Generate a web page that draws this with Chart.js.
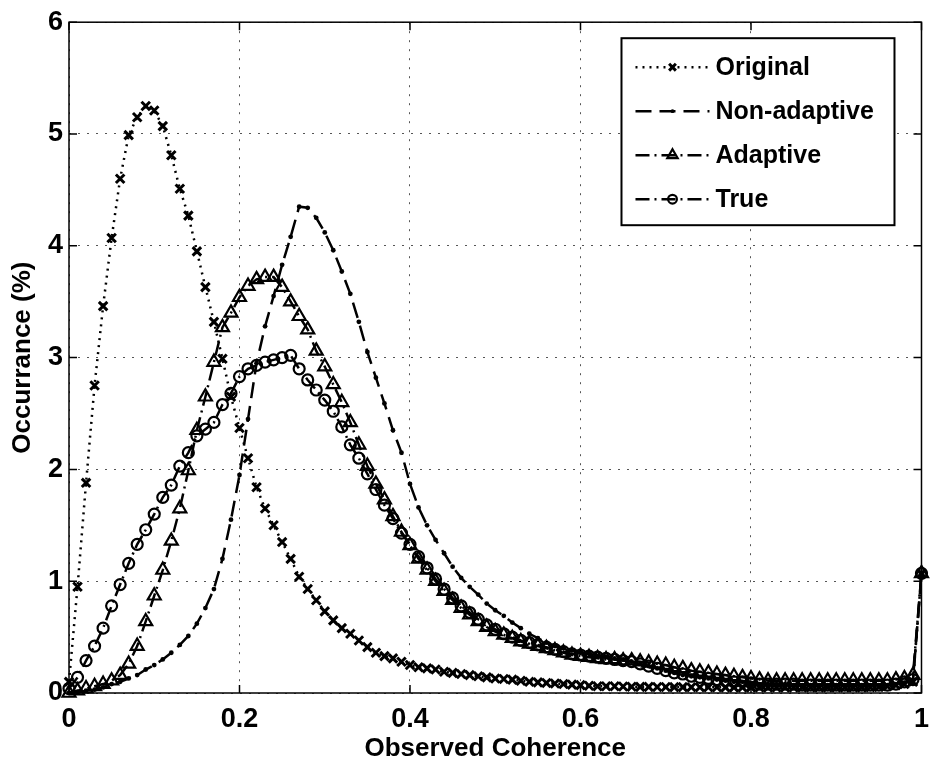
<!DOCTYPE html>
<html>
<head>
<meta charset="utf-8">
<script src="https://cdn.jsdelivr.net/npm/chart.js@4.4.0/dist/chart.umd.min.js"></script>
<style>
  html, body { margin: 0; padding: 0; background: #fff; overflow: hidden; width: 931px; height: 767px; }
  canvas { display: block; }
</style>
</head>
<body>
<!-- a little wider than the window: the right tick label hangs off the edge, as in the original -->
<canvas id="coherenceChart" width="939" height="767"></canvas>
<script>
// Observed coherence bins (x)
const coherence = [
  0.00, 0.01, 0.02, 0.03, 0.04, 0.05, 0.06, 0.07, 0.08, 0.09,
  0.10, 0.11, 0.12, 0.13, 0.14, 0.15, 0.16, 0.17, 0.18, 0.19,
  0.20, 0.21, 0.22, 0.23, 0.24, 0.25, 0.26, 0.27, 0.28, 0.29,
  0.30, 0.31, 0.32, 0.33, 0.34, 0.35, 0.36, 0.37, 0.38, 0.39,
  0.40, 0.41, 0.42, 0.43, 0.44, 0.45, 0.46, 0.47, 0.48, 0.49,
  0.50, 0.51, 0.52, 0.53, 0.54, 0.55, 0.56, 0.57, 0.58, 0.59,
  0.60, 0.61, 0.62, 0.63, 0.64, 0.65, 0.66, 0.67, 0.68, 0.69,
  0.70, 0.71, 0.72, 0.73, 0.74, 0.75, 0.76, 0.77, 0.78, 0.79,
  0.80, 0.81, 0.82, 0.83, 0.84, 0.85, 0.86, 0.87, 0.88, 0.89,
  0.90, 0.91, 0.92, 0.93, 0.94, 0.95, 0.96, 0.97, 0.98, 0.99,
  1.00
];

// Occurrance (%) per series
const original = [
  0.10, 0.95, 1.88, 2.75, 3.46, 4.07, 4.60, 4.99, 5.15, 5.25,
  5.21, 5.07, 4.81, 4.51, 4.27, 3.95, 3.63, 3.32, 2.99, 2.65,
  2.37, 2.10, 1.84, 1.65, 1.50, 1.35, 1.20, 1.04, 0.93, 0.83,
  0.73, 0.65, 0.58, 0.53, 0.47, 0.41, 0.36, 0.33, 0.31, 0.28,
  0.25, 0.23, 0.22, 0.21, 0.19, 0.18, 0.17, 0.16, 0.15, 0.14,
  0.13, 0.125, 0.12, 0.11, 0.10, 0.095, 0.09, 0.085, 0.08, 0.075,
  0.07, 0.065, 0.06, 0.06, 0.06, 0.058, 0.056, 0.055, 0.055, 0.054,
  0.054, 0.053, 0.053, 0.052, 0.052, 0.051, 0.051, 0.05, 0.05, 0.05,
  0.05, 0.05, 0.05, 0.05, 0.05, 0.05, 0.05, 0.05, 0.05, 0.05,
  0.05, 0.05, 0.05, 0.05, 0.052, 0.055, 0.06, 0.07, 0.08, 0.10,
  1.07
];
const nonAdaptive = [
  0.00, 0.01, 0.02, 0.03, 0.05, 0.08, 0.10, 0.13, 0.16, 0.21,
  0.25, 0.30, 0.36, 0.43, 0.51, 0.62, 0.76, 0.93, 1.20, 1.55,
  1.95, 2.45, 2.95, 3.28, 3.55, 3.83, 4.08, 4.35, 4.34, 4.25,
  4.12, 3.96, 3.77, 3.57, 3.32, 3.05, 2.82, 2.59, 2.35, 2.15,
  1.87, 1.66, 1.50, 1.37, 1.25, 1.13, 1.03, 0.95, 0.88, 0.80,
  0.74, 0.69, 0.63, 0.58, 0.53, 0.49, 0.45, 0.42, 0.40, 0.38,
  0.36, 0.35, 0.33, 0.32, 0.31, 0.30, 0.28, 0.26, 0.24, 0.22,
  0.20, 0.18, 0.16, 0.15, 0.14, 0.13, 0.12, 0.11, 0.10, 0.10,
  0.09, 0.08, 0.08, 0.08, 0.08, 0.07, 0.07, 0.07, 0.07, 0.07,
  0.07, 0.07, 0.07, 0.07, 0.07, 0.07, 0.07, 0.08, 0.09, 0.11,
  1.07
];
const adaptive = [
  0.00, 0.02, 0.04, 0.06, 0.08, 0.11, 0.16, 0.26, 0.42, 0.64,
  0.87, 1.10, 1.36, 1.65, 1.99, 2.35, 2.65, 2.96, 3.27, 3.40,
  3.54, 3.64, 3.70, 3.72, 3.72, 3.63, 3.50, 3.37, 3.25, 3.06,
  2.92, 2.76, 2.60, 2.42, 2.22, 2.03, 1.87, 1.73, 1.58, 1.44,
  1.32, 1.20, 1.10, 1.00, 0.91, 0.83, 0.76, 0.70, 0.64, 0.59,
  0.55, 0.52, 0.49, 0.46, 0.44, 0.42, 0.40, 0.38, 0.36, 0.34,
  0.33, 0.32, 0.31, 0.30, 0.30, 0.29, 0.29, 0.28, 0.27, 0.26,
  0.25, 0.23, 0.22, 0.20, 0.19, 0.18, 0.17, 0.16, 0.15, 0.14,
  0.13, 0.12, 0.11, 0.11, 0.11, 0.11, 0.11, 0.11, 0.11, 0.11,
  0.11, 0.11, 0.11, 0.11, 0.11, 0.11, 0.11, 0.12, 0.13, 0.16,
  1.07
];
const trueCoh = [
  0.04, 0.14, 0.29, 0.42, 0.58, 0.78, 0.97, 1.16, 1.33, 1.46,
  1.60, 1.75, 1.86, 2.03, 2.15, 2.30, 2.36, 2.42, 2.58, 2.68,
  2.83, 2.90, 2.93, 2.96, 2.98, 3.00, 3.02, 2.90, 2.80, 2.71,
  2.62, 2.52, 2.38, 2.22, 2.10, 1.96, 1.82, 1.68, 1.56, 1.43,
  1.33, 1.22, 1.12, 1.02, 0.93, 0.85, 0.78, 0.72, 0.66, 0.61,
  0.57, 0.53, 0.50, 0.47, 0.45, 0.43, 0.41, 0.39, 0.37, 0.35,
  0.34, 0.33, 0.32, 0.31, 0.30, 0.29, 0.28, 0.26, 0.24, 0.22,
  0.20, 0.18, 0.17, 0.15, 0.14, 0.13, 0.12, 0.11, 0.10, 0.10,
  0.09, 0.08, 0.08, 0.08, 0.08, 0.08, 0.07, 0.07, 0.07, 0.07,
  0.07, 0.07, 0.07, 0.07, 0.07, 0.07, 0.07, 0.08, 0.10, 0.12,
  1.07
];

const seriesNames = ['Original', 'Non-adaptive', 'Adaptive', 'True'];
const xTicks = [0, 0.2, 0.4, 0.6, 0.8, 1];
const yTicks = [0, 1, 2, 3, 4, 5, 6];

const FONT = '"Liberation Sans", Arial, Helvetica, sans-serif';
Chart.defaults.font.family = FONT;
Chart.defaults.color = '#000';

function toPoints(values) {
  return coherence.map((x, i) => ({ x: x, y: values[i] }));
}

function lineStyle(label, values, dash, marker, radius, markerWidth, order) {
  return {
    label: label,
    data: toPoints(values),
    borderColor: '#000',
    borderWidth: 2.5,
    borderDash: dash,
    pointStyle: marker,
    pointRadius: radius,
    pointBorderColor: '#000',
    pointBorderWidth: markerWidth,
    pointBackgroundColor: radius < 3 ? '#000' : 'rgba(0,0,0,0)',
    tension: 0,
    clip: 12,
    order: order
  };
}

// box, inner tick marks, then the legend, matlab style
const framePlugin = {
  id: 'frame',
  afterDatasetsDraw(chart) {
    const { ctx, chartArea: a, scales } = chart;
    ctx.save();
    ctx.setLineDash([]);
    ctx.strokeStyle = '#000';
    ctx.lineWidth = 1.5;
    ctx.strokeRect(a.left, a.top, a.right - a.left, a.bottom - a.top);
    ctx.beginPath();
    xTicks.forEach(v => {
      const px = scales.x.getPixelForValue(v);
      ctx.moveTo(px, a.bottom); ctx.lineTo(px, a.bottom - 8);
      ctx.moveTo(px, a.top); ctx.lineTo(px, a.top + 8);
    });
    yTicks.forEach(v => {
      const py = scales.y.getPixelForValue(v);
      ctx.moveTo(a.left, py); ctx.lineTo(a.left + 8, py);
      ctx.moveTo(a.right, py); ctx.lineTo(a.right - 8, py);
    });
    ctx.stroke();
    ctx.restore();
  },
  afterDraw(chart) {
    const { ctx, chartArea: a } = chart;
    const boxRight = a.right - 27;
    const boxLeft = boxRight - 273;
    const boxTop = a.top + 16;
    const boxBottom = boxTop + 187;
    ctx.save();
    ctx.fillStyle = '#fff';
    ctx.fillRect(boxLeft, boxTop, boxRight - boxLeft, boxBottom - boxTop);
    ctx.strokeStyle = '#000';
    ctx.lineWidth = 2;
    ctx.setLineDash([]);
    ctx.strokeRect(boxLeft, boxTop, boxRight - boxLeft, boxBottom - boxTop);

    const x0 = boxLeft + 14, x1 = boxLeft + 88;
    const xm = (x0 + x1) / 2;
    ctx.font = 'bold 25px ' + FONT;
    ctx.textBaseline = 'middle';
    ctx.textAlign = 'left';
    chart.data.datasets.forEach((ds, i) => {
      const y = boxTop + 29 + i * 44;
      ctx.strokeStyle = '#000';
      ctx.lineWidth = ds.borderWidth;
      ctx.setLineDash(ds.borderDash);
      ctx.beginPath();
      ctx.moveTo(x0, y);
      ctx.lineTo(x1, y);
      ctx.stroke();
      ctx.setLineDash([]);
      ctx.fillStyle = ds.pointBackgroundColor;
      ctx.lineWidth = ds.pointBorderWidth;
      Chart.helpers.drawPoint(ctx, {
        pointStyle: ds.pointStyle,
        radius: ds.pointRadius * 0.8,
        rotation: 0,
        borderWidth: ds.pointBorderWidth
      }, xm, y);
      ctx.fillStyle = '#000';
      ctx.fillText(ds.label, boxLeft + 94, y + 1);
    });
    ctx.restore();
  }
};

new Chart(document.getElementById('coherenceChart'), {
  type: 'line',
  data: {
    datasets: [
      lineStyle(seriesNames[0], original, [2, 5], 'crossRot', 6, 3, 4),
      lineStyle(seriesNames[1], nonAdaptive, [16, 8], 'circle', 2.4, 0, 3),
      lineStyle(seriesNames[2], adaptive, [14, 5, 2, 5], 'triangle', 7.5, 2.2, 2),
      lineStyle(seriesNames[3], trueCoh, [14, 5, 2, 5], 'circle', 5.5, 2.2, 1)
    ]
  },
  options: {
    responsive: false,
    animation: false,
    devicePixelRatio: 1,
    layout: { padding: { top: 15, right: 2, left: 0, bottom: 0 } },
    plugins: {
      legend: { display: false },
      tooltip: { enabled: false }
    },
    scales: {
      x: {
        type: 'linear',
        min: 0,
        max: 1,
        afterBuildTicks(scale) { scale.ticks = xTicks.map(v => ({ value: v })); },
        afterFit(scale) { scale.height = 74; },
        ticks: {
          font: { size: 27, weight: 'bold' },
          padding: 10,
          maxRotation: 0,
          callback: v => String(Math.round(v * 10) / 10)
        },
        grid: { color: '#555', lineWidth: 1, drawTicks: false },
        border: { display: false, dash: [2, 7] },
        title: {
          display: true,
          text: 'Observed Coherence',
          font: { size: 26, weight: 'bold' },
          padding: { top: 0, bottom: 3 }
        }
      },
      y: {
        min: 0,
        max: 6,
        afterBuildTicks(scale) { scale.ticks = yTicks.map(v => ({ value: v })); },
        afterFit(scale) { scale.width = 69; },
        ticks: {
          font: { size: 27, weight: 'bold' },
          padding: 6
        },
        grid: { color: '#555', lineWidth: 1, drawTicks: false },
        border: { display: false, dash: [2, 7] },
        title: {
          display: true,
          text: 'Occurrance (%)',
          font: { size: 26, weight: 'bold' },
          padding: { top: 7, bottom: 0 }
        }
      }
    }
  },
  plugins: [framePlugin]
});
</script>
</body>
</html>
